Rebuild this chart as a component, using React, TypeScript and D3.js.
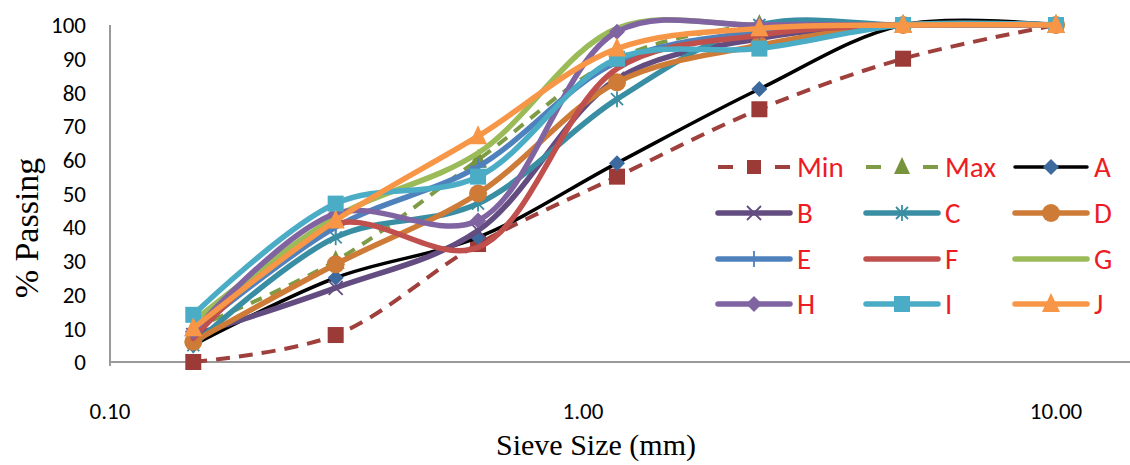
import React from 'react'
import * as d3 from 'd3'

// sieve sizes (mm) and % passing per gradation
const sieves = [0.15, 0.3, 0.6, 1.18, 2.36, 4.75, 10]
const minPass = [0, 8, 35, 55, 75, 90, 100]
const maxPass = [10, 30, 60, 90, 100, 100, 100]
const aPass = [5, 25, 37, 59, 81, 100, 100]
const bPass = [8, 22, 39, 84, 96, 100, 100]
const cPass = [5, 37, 47, 78, 100, 100, 100]
const dPass = [6, 29, 50, 83, 94, 100, 100]
const ePass = [9, 40, 58, 89, 98, 100, 100]
const fPass = [7, 41, 34, 87, 97, 100, 100]
const gPass = [12, 43, 62, 99, 100, 100, 100]
const hPass = [9, 44, 42, 98, 100, 100, 100]
const iPass = [14, 47, 55, 90, 93, 100, 100]
const jPass = [10, 42, 67, 93, 99, 100, 100]

const yTicks = [0, 10, 20, 30, 40, 50, 60, 70, 80, 90, 100]
const xTicks = [0.1, 1, 10]

type Shape = 'square' | 'triangle' | 'diamond' | 'x' | 'asterisk' | 'circle' | 'plus' | 'none'

const series: { name: string; values: number[]; color: string; mColor: string; shape: Shape; dash?: string; width: number }[] = [
  { name: 'Min', values: minPass, color: '#A0403D', mColor: '#9C3A37', shape: 'square', dash: '14,9', width: 4 },
  { name: 'Max', values: maxPass, color: '#7E9B45', mColor: '#77933C', shape: 'triangle', dash: '12,9', width: 4 },
  { name: 'A', values: aPass, color: '#000000', mColor: '#3D6A9E', shape: 'diamond', width: 3.5 },
  { name: 'B', values: bPass, color: '#634C80', mColor: '#634C80', shape: 'x', width: 5.5 },
  { name: 'C', values: cPass, color: '#3A8EA3', mColor: '#3A8EA3', shape: 'asterisk', width: 5.5 },
  { name: 'D', values: dPass, color: '#CD7B37', mColor: '#CD7B37', shape: 'circle', width: 5.5 },
  { name: 'E', values: ePass, color: '#4F81BD', mColor: '#4F81BD', shape: 'plus', width: 5.5 },
  { name: 'F', values: fPass, color: '#C0504D', mColor: '#C0504D', shape: 'none', width: 5.5 },
  { name: 'G', values: gPass, color: '#9BBB59', mColor: '#9BBB59', shape: 'none', width: 5.5 },
  { name: 'H', values: hPass, color: '#8064A2', mColor: '#8064A2', shape: 'diamond', width: 5.5 },
  { name: 'I', values: iPass, color: '#4BACC6', mColor: '#4BACC6', shape: 'square', width: 5.5 },
  { name: 'J', values: jPass, color: '#F79646', mColor: '#F79646', shape: 'triangle', width: 5.5 },
]

function Marker({ shape, x, y, color, small }: { shape: Shape; x: number; y: number; color: string; small?: boolean }) {
  const s = small ? 7 : 8
  switch (shape) {
    case 'square':
      return <rect x={x - s} y={y - s} width={s * 2} height={s * 2} fill={color} />
    case 'triangle':
      return <path d={`M${x},${y - s - 3}L${x + s + 1},${y + s}L${x - s - 1},${y + s}Z`} fill={color} />
    case 'diamond':
      return <path d={`M${x},${y - s}L${x + s},${y}L${x},${y + s}L${x - s},${y}Z`} fill={color} />
    case 'circle':
      return <circle cx={x} cy={y} r={s + 1} fill={color} />
    case 'x':
      return <path d={`M${x - 7},${y - 7}L${x + 7},${y + 7}M${x + 7},${y - 7}L${x - 7},${y + 7}`} stroke={color} strokeWidth={1.8} />
    case 'asterisk':
      return <path d={`M${x - 6},${y - 6}L${x + 6},${y + 6}M${x + 6},${y - 6}L${x - 6},${y + 6}M${x},${y - 8}L${x},${y + 8}`} stroke={color} strokeWidth={1.8} />
    case 'plus':
      return <path d={`M${x},${y - 8}L${x},${y + 8}M${x - 8},${y}L${x + 8},${y}`} stroke={color} strokeWidth={1.8} />
    default:
      return null
  }
}

export default function App() {
  const width = 1130
  const height = 465
  const x = d3.scaleLog().domain([0.1, 10]).range([110, 1056])
  const y = d3.scaleLinear().domain([0, 100]).range([362, 25])

  const line = d3.line<number>()
    .x((_, i) => x(sieves[i]))
    .y(d => y(d))
    .curve(d3.curveCatmullRom.alpha(0.5))

  const legendCols = [718, 866, 1015]
  const legendRows = [167, 213, 259, 304]
  const tickFont = 'Carlito, Lato, "Open Sans", sans-serif'

  return (
    <svg width={width} height={height} style={{ position: 'absolute', left: 0, top: 0, background: '#fff' }}>
      {/* axes */}
      <line x1={110} x2={110} y1={25} y2={366} stroke="#9a9a9a" strokeWidth={2} />
      <line x1={110} x2={1130} y1={362} y2={362} stroke="#9a9a9a" strokeWidth={2} />
      {yTicks.map(t => (
        <text key={t} x={86} y={y(t)} dy="0.36em" textAnchor="end" fontSize={23} fontFamily={tickFont} fill="#000">{t}</text>
      ))}
      {xTicks.map(t => (
        <text key={t} x={x(t)} y={419} textAnchor="middle" fontSize={23} fontFamily={tickFont} fill="#000">{t.toFixed(2)}</text>
      ))}
      <text x={596} y={455} textAnchor="middle" fontSize={30} fontFamily='"Liberation Serif", serif' fill="#000">Sieve Size (mm)</text>
      <text transform="translate(38,228) rotate(-90)" textAnchor="middle" fontSize={34} fontFamily='"Liberation Serif", serif' fill="#000">% Passing</text>

      {/* series */}
      {series.map(s => (
        <g key={s.name}>
          <path d={line(s.values) || ''} fill="none" stroke={s.color} strokeWidth={s.width} strokeDasharray={s.dash} strokeLinejoin="round" strokeLinecap={s.dash ? 'butt' : 'round'} />
          {s.values.map((v, i) => (
            <Marker key={i} shape={s.shape} x={x(sieves[i])} y={y(v)} color={s.mColor} />
          ))}
        </g>
      ))}

      {/* legend */}
      {series.map((s, k) => {
        const lx = legendCols[k % 3]
        const ly = legendRows[Math.floor(k / 3)]
        return (
          <g key={s.name}>
            {s.dash ? (
              <>
                <line x1={lx} x2={lx + 15} y1={ly} y2={ly} stroke={s.color} strokeWidth={4} />
                <line x1={lx + 57} x2={lx + 72} y1={ly} y2={ly} stroke={s.color} strokeWidth={4} />
              </>
            ) : (
              <line x1={lx} x2={lx + 72} y1={ly} y2={ly} stroke={s.color} strokeWidth={s.width} strokeLinecap="round" />
            )}
            <Marker shape={s.shape} x={lx + 36} y={ly} color={s.mColor} small={!!s.dash} />
            <text x={lx + 79} y={ly} dy="0.36em" fontSize={29} fontFamily={tickFont} fill="#ED1C24">{s.name}</text>
          </g>
        )
      })}
    </svg>
  )
}
